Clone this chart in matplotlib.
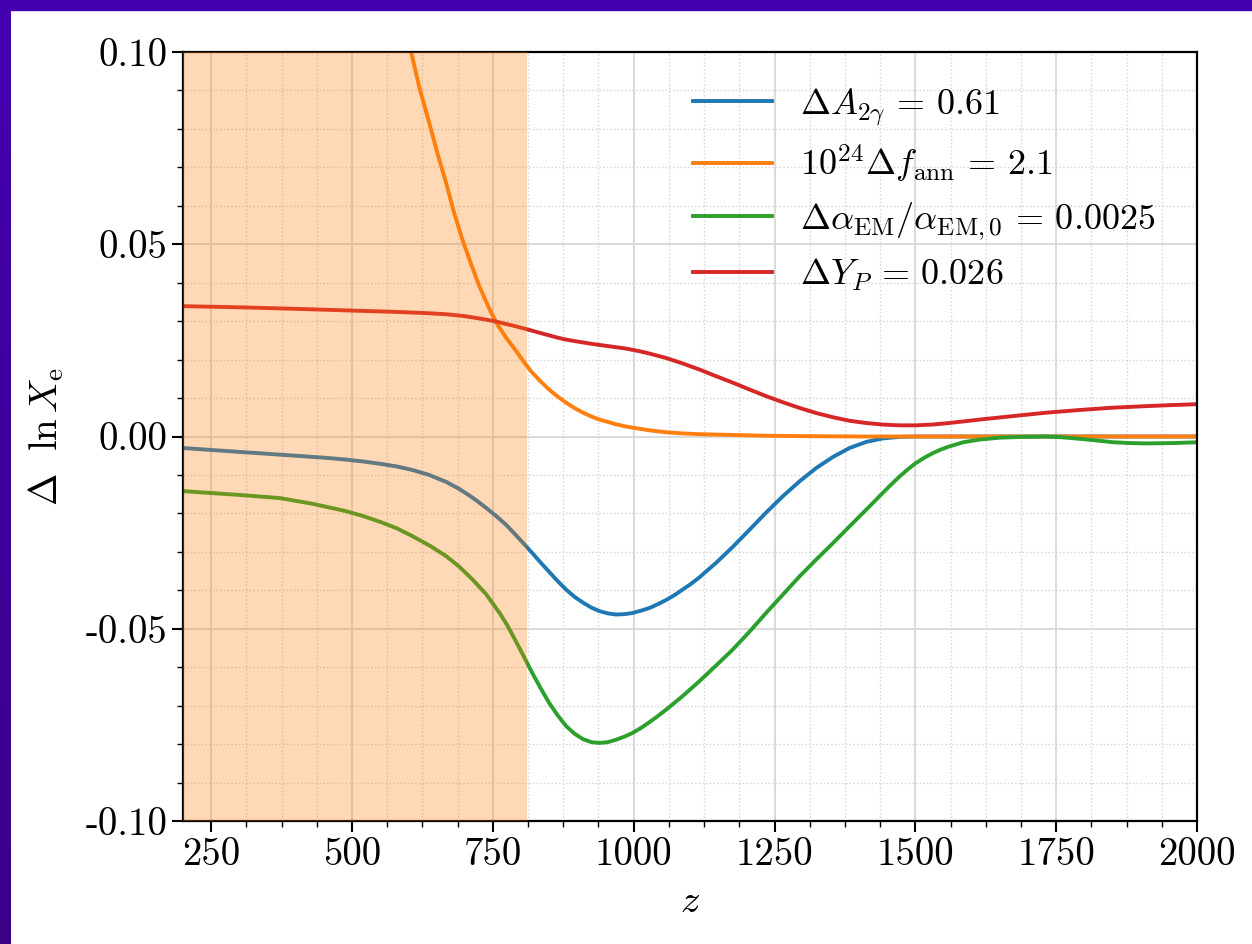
import numpy as np
import matplotlib
matplotlib.use("Agg")
import matplotlib.pyplot as plt
from matplotlib.ticker import MultipleLocator, FormatStrFormatter
from matplotlib.colors import LinearSegmentedColormap
from matplotlib.patches import Rectangle

plt.rcParams['font.family'] = 'serif'
plt.rcParams['font.serif'] = ['cmr10']
plt.rcParams['mathtext.fontset'] = 'cm'
plt.rcParams['axes.unicode_minus'] = False

# Delta ln X_e for each parameter shift, read per redshift
z_A2g = [200, 250, 300, 350, 400, 450, 489, 520, 550, 580, 607, 637, 667, 690,
         710, 726, 741, 756, 773, 790, 805, 820, 835, 850, 865, 880, 895, 910,
         925, 939, 954, 969, 984, 998, 1013, 1028, 1043, 1058, 1073, 1087, 1102,
         1117, 1131, 1146, 1176, 1206, 1235, 1265, 1295, 1324, 1354, 1383, 1413,
         1442, 1472, 1500, 1600, 1750, 2000]
d_A2g = [-0.0030, -0.0035, -0.0040, -0.0045, -0.0050, -0.0055, -0.0060, -0.0065,
         -0.0071, -0.0078, -0.0087, -0.0100, -0.0118, -0.0136, -0.0155, -0.0172,
         -0.0189, -0.0207, -0.0229, -0.0255, -0.0279, -0.0303, -0.0328, -0.0352,
         -0.0376, -0.0398, -0.0417, -0.0432, -0.0445, -0.0454, -0.0460, -0.0463,
         -0.0462, -0.0459, -0.0453, -0.0446, -0.0436, -0.0425, -0.0412, -0.0398,
         -0.0383, -0.0366, -0.0348, -0.0329, -0.0287, -0.0242, -0.0198, -0.0155,
         -0.0116, -0.0082, -0.0053, -0.0030, -0.0014, -0.0005, -0.0001, 0.0, 0.0,
         0.0, 0.0]

z_fann = [580, 605, 620, 637, 652, 667, 681, 696, 711, 726, 741, 756, 773, 790,
          805, 820, 835, 850, 865, 880, 895, 910, 925, 939, 954, 968, 983, 998,
          1028, 1058, 1087, 1117, 1146, 1176, 1235, 1295, 1400, 2000]
d_fann = [0.112, 0.100, 0.0905, 0.0816, 0.0735, 0.0660, 0.0583, 0.0512, 0.0450,
          0.0391, 0.0341, 0.0296, 0.0258, 0.0225, 0.0194, 0.0166, 0.0143, 0.0122,
          0.0104, 0.0088, 0.0074, 0.0062, 0.0052, 0.0044, 0.0038, 0.0032, 0.0027,
          0.0023, 0.0016, 0.0011, 0.0008, 0.0006, 0.0005, 0.0004, 0.0002, 0.0001,
          0.0, 0.0]

z_alpha = [200, 250, 300, 371, 430, 489, 520, 550, 580, 607, 637, 667, 690, 714,
           738, 762, 776, 790, 805, 820, 835, 850, 865, 880, 895, 910, 925, 939,
           954, 968, 983, 998, 1013, 1028, 1043, 1058, 1087, 1117, 1146, 1176,
           1206, 1235, 1265, 1295, 1324, 1354, 1383, 1413, 1442, 1457, 1472, 1487,
           1500, 1515, 1530, 1545, 1560, 1585, 1614, 1650, 1690, 1733, 1760, 1792,
           1820, 1851, 1880, 1910, 1960, 2000]
d_alpha = [-0.0142, -0.0147, -0.0152, -0.0160, -0.0175, -0.0194, -0.0207, -0.0222,
           -0.0239, -0.0259, -0.0283, -0.0311, -0.0338, -0.0372, -0.0410, -0.0459,
           -0.0492, -0.0530, -0.0572, -0.0615, -0.0655, -0.0693, -0.0725, -0.0753,
           -0.0773, -0.0787, -0.0795, -0.0797, -0.0795, -0.0789, -0.0781, -0.0771,
           -0.0758, -0.0743, -0.0727, -0.0710, -0.0675, -0.0636, -0.0596, -0.0554,
           -0.0507, -0.0459, -0.0411, -0.0363, -0.0320, -0.0277, -0.0234, -0.0190,
           -0.0147, -0.0125, -0.0104, -0.0085, -0.0070, -0.0056, -0.0044, -0.0034,
           -0.0026, -0.0015, -0.0008, -0.0003, -0.0001, 0.0000, -0.0002, -0.0006,
           -0.0010, -0.0015, -0.0017, -0.0018, -0.0017, -0.0015]

z_YP = [200, 300, 400, 489, 580, 630, 667, 700, 730, 756, 775, 790, 805, 820, 835,
        850, 865, 880, 904, 930, 960, 985, 1010, 1030, 1058, 1087, 1117, 1146,
        1176, 1206, 1235, 1265, 1295, 1324, 1354, 1383, 1413, 1442, 1472, 1500,
        1530, 1560, 1590, 1620, 1673, 1733, 1792, 1851, 1910, 1960, 2000]
d_YP = [0.0339, 0.0336, 0.0332, 0.0328, 0.0324, 0.0321, 0.0318, 0.0313, 0.0306,
        0.0299, 0.0292, 0.0287, 0.0281, 0.0275, 0.0269, 0.0263, 0.0257, 0.0252,
        0.0246, 0.0240, 0.0234, 0.0229, 0.0222, 0.0215, 0.0204, 0.0190, 0.0174,
        0.0157, 0.0140, 0.0122, 0.0105, 0.0089, 0.0074, 0.0061, 0.0050, 0.0041,
        0.0035, 0.0031, 0.0029, 0.0029, 0.0031, 0.0035, 0.0040, 0.0045, 0.0053,
        0.0062, 0.0069, 0.0075, 0.0079, 0.0082, 0.0084]

labels = [r'$\Delta A_{2\gamma}\,=\,0.61$',
          r'$10^{24}\Delta f_{\rm ann}\,=\,2.1$',
          r'$\Delta\alpha_{\rm EM}/\alpha_{\rm EM,0}\,=\,0.0025$',
          r'$\Delta Y_P\,=\,0.026$']

z_cut = 810

W, H = 1252, 944
fig = plt.figure(figsize=(W / 100, H / 100), dpi=100)

# purple frame along top and left edges
fig.patches.append(Rectangle((0, 1 - 10 / H), 1, 10 / H, transform=fig.transFigure,
                             color='#4500b0', zorder=10))
side = fig.add_axes([0, 0, 11 / W, 1 - 10 / H])
side.imshow(np.linspace(0, 1, 256).reshape(-1, 1), aspect='auto',
            cmap=LinearSegmentedColormap.from_list('frame', ['#4500b0', '#3a0088']))
side.axis('off')

ax = fig.add_axes([183 / W, 123 / H, (1197 - 183) / W, (821 - 52) / H])

lw = 2.8
ax.plot(z_A2g, d_A2g, color='tab:blue', lw=lw, label=labels[0])
ax.plot(z_fann, d_fann, color='tab:orange', lw=lw, label=labels[1])
ax.plot(z_alpha, d_alpha, color='tab:green', lw=lw, label=labels[2])
ax.plot(z_YP, d_YP, color='tab:red', lw=lw, label=labels[3])

ax.axvspan(200, z_cut, color='tab:orange', alpha=0.3, lw=0, zorder=5)

ax.set_xlim(200, 2000)
ax.set_ylim(-0.10, 0.10)
ax.xaxis.set_major_locator(MultipleLocator(250))
ax.xaxis.set_minor_locator(MultipleLocator(62.5))
ax.yaxis.set_major_locator(MultipleLocator(0.05))
ax.yaxis.set_minor_locator(MultipleLocator(0.01))
ax.yaxis.set_major_formatter(FormatStrFormatter('%.2f'))

ax.grid(which='major', color='#d8d8d8', lw=1.3, ls='-')
ax.grid(which='minor', color='#d2d2d2', lw=1.0, ls=':')
ax.set_axisbelow(True)

ax.tick_params(which='major', direction='out', length=8, width=1.5, labelsize=28,
               top=False, right=False)
ax.tick_params(which='minor', direction='out', length=4, width=1.0,
               top=False, right=False)
for s in ax.spines.values():
    s.set_linewidth(1.6)

ax.set_xlabel(r'$z$', fontsize=28, labelpad=8)
ax.set_ylabel(r'$\Delta\ \ \ln X_{\rm e}$', fontsize=28, labelpad=14)

ax.legend(loc='upper left', bbox_to_anchor=(693 / W, 1 - 86 / H),
          bbox_transform=fig.transFigure, frameon=False, fontsize=26,
          handlelength=2.2, handletextpad=0.75, labelspacing=0.42,
          borderpad=0, borderaxespad=0)

fig.savefig('out.png', dpi=100)
